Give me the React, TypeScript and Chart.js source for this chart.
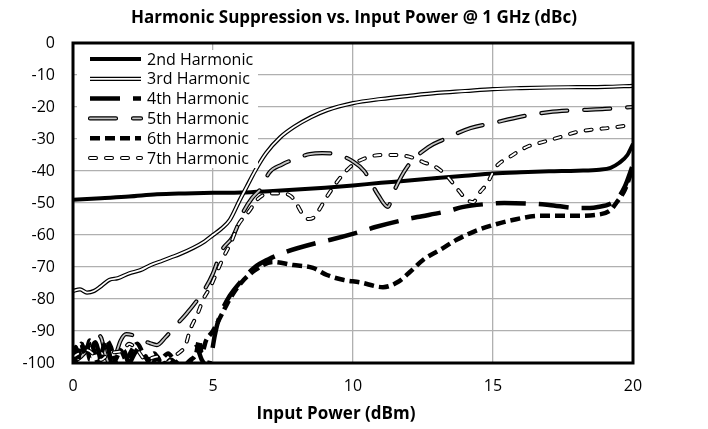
import React, { useEffect, useRef } from 'react';
import { Chart, registerables } from 'chart.js';

Chart.register(...registerables);

const FONT = "'Open Sans', sans-serif";

const TITLE = 'Harmonic Suppression vs. Input Power @ 1 GHz (dBc)';
const X_TITLE = 'Input Power (dBm)';
const X_MIN = 0;
const X_MAX = 20;
const X_STEP = 5;
const Y_MIN = -100;
const Y_MAX = 0;
const Y_STEP = 10;

const seriesNames = ['2nd Harmonic', '3rd Harmonic', '4th Harmonic', '5th Harmonic', '6th Harmonic', '7th Harmonic'];

const h2X = [0, 1, 2, 3, 4, 5, 6, 7, 8, 9, 10, 11, 12, 13, 14, 15, 16, 17, 18, 18.8, 19.2, 19.5, 19.8, 20];
const h2Y = [-49, -48.5, -48, -47.3, -47, -46.8, -46.7, -46.3, -45.8, -45.2, -44.5, -43.7, -43, -42.2, -41.5, -40.8, -40.4, -40.1, -39.9, -39.6, -39, -37.5, -35, -31.5];

const h3X = [0, 0.25, 0.5, 0.75, 1, 1.3, 1.6, 2, 2.4, 2.75, 3.2, 3.5, 3.8, 4.3, 4.7, 5, 5.3, 5.6, 5.96, 6.2, 6.5, 6.9, 7.4, 7.9, 8.5, 9.07, 10, 11, 12, 13, 14, 15, 16, 17, 18, 19, 20];
const h3Y = [-77.5, -77, -78, -77.5, -76, -74, -73.5, -72, -71, -69.5, -68, -67, -66, -64, -62, -60, -58, -55.3, -49, -45, -40, -34.4, -29.5, -26.2, -23.2, -21, -18.8, -17.5, -16.5, -15.6, -15, -14.4, -14.1, -13.9, -13.8, -13.7, -13.4];

const h4X = [0, 0.1, 0.2, 0.3, 0.4, 0.5, 0.6, 0.7, 0.8, 0.9, 1, 1.1, 1.2, 1.3, 1.4, 1.6, 1.8, 2, 2.2, 2.4, 2.6, 2.8, 3, 3.2, 3.5, 3.8, 4.1, 4.4, 4.6, 4.8, 4.95, 5.05, 5.15, 5.3, 5.6, 6, 6.5, 7, 7.6, 8.7, 9.2, 10.25, 10.8, 11.8, 12.3, 13.4, 13.9, 14.8, 15.4, 16.6, 17, 18.1, 18.7, 19.4, 19.7, 20];
const h4Y = [-101, -95, -98, -94, -97, -95, -99, -95, -93.5, -96, -99, -95, -94, -97, -101, -98, -96, -100, -97, -95, -98, -101, -98, -101, -99, -101, -101, -95, -99, -101, -97, -92, -88, -84, -79, -74.5, -70, -67.5, -65.3, -62.5, -61.5, -59, -57.5, -55.3, -54.4, -52.5, -51.3, -50.3, -50, -50.3, -50.6, -51.6, -51.3, -49, -45, -38];

const h5X = [0, 0.4, 0.8, 1, 1.15, 1.3, 1.5, 1.7, 1.9, 2.2, 2.5, 2.75, 3, 3.3, 3.7, 4.07, 4.7, 5, 5.3, 5.7, 6.1, 6.4, 6.75, 7, 7.46, 8, 8.46, 8.9, 9.5, 10, 10.4, 10.9, 11.25, 11.43, 11.93, 12.7, 13.2, 14.2, 15, 16, 17, 18, 19, 20];
const h5Y = [-100, -97, -91, -92, -97, -100, -98, -93, -91, -91.5, -93, -93.8, -94.4, -92, -88, -84.4, -77, -72, -65, -60.6, -52.5, -48.4, -45, -40.6, -38, -36, -34.7, -34.4, -35, -37, -40, -47.5, -51.2, -47, -38.8, -32.5, -30.3, -26.6, -25, -23, -21.6, -21, -20.6, -20];

const h6X = [0, 0.15, 0.3, 0.45, 0.6, 0.75, 0.9, 1.05, 1.2, 1.35, 1.5, 1.7, 1.9, 2.1, 2.3, 2.5, 2.7, 2.9, 3.1, 3.4, 3.6, 3.9, 4.2, 4.4, 4.5, 4.6, 4.75, 5, 5.3, 5.6, 6, 6.5, 7.14, 7.86, 8.57, 9.07, 9.64, 10.25, 11.07, 11.6, 12.04, 12.5, 13.1, 13.7, 14.3, 15, 15.7, 16.7, 17.9, 18.7, 19.2, 19.4, 19.7, 20];
const h6Y = [-97, -100, -94, -97, -93, -96, -100, -96, -93, -95, -99, -96, -99, -96, -94, -97, -99, -97, -99, -97, -99, -101, -99, -97, -93, -97, -93, -90, -85, -80, -75, -71, -68.4, -69.4, -70.3, -72.5, -74, -74.8, -76.3, -74.7, -71.5, -67.8, -64.7, -61.5, -59, -56.9, -55.3, -54, -54, -53.7, -52.2, -50, -46, -39];

const h7X = [0, 0.5, 1, 1.3, 1.8, 2, 2.3, 2.6, 3, 3.3, 3.6, 3.9, 4, 4.18, 4.46, 4.64, 4.9, 5.14, 5.36, 5.68, 5.86, 6.32, 6.57, 7, 7.5, 7.8, 8, 8.2, 8.4, 8.6, 8.8, 9, 9.3, 9.6, 10, 10.5, 11, 11.5, 12, 12.5, 13, 13.4, 13.7, 14.07, 14.3, 14.5, 14.8, 15.1, 15.6, 16.2, 16.8, 17.4, 18, 18.6, 19.2, 20];
const h7Y = [-98, -96, -99, -97, -96, -94, -96, -99, -98, -100, -98, -96, -95, -89.7, -84.4, -80.3, -76.3, -71.6, -67.2, -61.6, -57.5, -52.2, -49, -47, -47, -48, -50.5, -53.5, -55, -54.5, -52, -49, -45, -41.5, -38, -35.8, -35, -35, -35.5, -37.2, -39, -42, -45.3, -49, -49.7, -47, -43.8, -38.8, -35.6, -32.5, -30.9, -29.4, -27.8, -27, -26.5, -25.5];

const seriesX = [h2X, h3X, h4X, h5X, h6X, h7X];
const seriesY = [h2Y, h3Y, h4Y, h5Y, h6Y, h7Y];

type Stroke = { color: string; width: number; dash: number[]; cap: CanvasLineCap };
// each series may have one or two strokes (outline + inner core)
const seriesStrokes: Stroke[][] = [
  [{ color: '#000', width: 4, dash: [], cap: 'butt' }],
  [{ color: '#000', width: 4.2, dash: [], cap: 'butt' }, { color: '#fff', width: 1.8, dash: [], cap: 'butt' }],
  [{ color: '#000', width: 4.5, dash: [30, 13], cap: 'butt' }],
  [{ color: '#000', width: 4.2, dash: [26, 17], cap: 'round' }, { color: '#c4c4c4', width: 1.8, dash: [26, 17], cap: 'round' }],
  [{ color: '#000', width: 4.5, dash: [10, 5], cap: 'butt' }],
  [{ color: '#000', width: 4, dash: [6, 10], cap: 'round' }, { color: '#fff', width: 1.8, dash: [6, 10], cap: 'round' }],
];

const overlayPlugin = {
  id: 'overlay',
  afterDatasetsDraw(chart: any) {
    const { ctx, chartArea } = chart;
    const { left, top, right, bottom } = chartArea;
    ctx.save();
    // legend box
    ctx.fillStyle = '#fff';
    ctx.fillRect(left + 4, top + 7, 258 - left - 4, 168 - top - 7);
    const rowY0 = 59;
    const rowH = 19.8;
    for (let i = 0; i < seriesNames.length; i++) {
      const y = rowY0 + i * rowH;
      for (const s of seriesStrokes[i]) {
        ctx.beginPath();
        ctx.strokeStyle = s.color;
        ctx.lineWidth = s.width;
        ctx.lineCap = s.cap;
        ctx.setLineDash(s.dash);
        ctx.moveTo(90, y);
        ctx.lineTo(141, y);
        ctx.stroke();
      }
      ctx.setLineDash([]);
      ctx.fillStyle = '#000';
      ctx.font = `16px ${FONT}`;
      ctx.textAlign = 'left';
      ctx.textBaseline = 'middle';
      ctx.fillText(seriesNames[i], 147, y + 1);
    }
    // frame
    ctx.setLineDash([]);
    ctx.lineCap = 'butt';
    ctx.strokeStyle = '#000';
    ctx.lineWidth = 3;
    ctx.strokeRect(left, top, right - left, bottom - top);
    // titles
    ctx.fillStyle = '#000';
    ctx.textAlign = 'center';
    ctx.textBaseline = 'middle';
    ctx.font = `bold 17px ${FONT}`;
    ctx.fillText(TITLE, 354, 18);
    ctx.fillText(X_TITLE, 336, 414);
    ctx.restore();
  },
};

export default function App() {
  const ref = useRef<HTMLCanvasElement>(null);
  useEffect(() => {
    const canvas = ref.current;
    if (!canvas) return;
    const datasets: any[] = [];
    let drawIndex = 0;
    const total = seriesStrokes.reduce((a, s) => a + s.length, 0);
    seriesStrokes.forEach((strokes, si) => {
      strokes.forEach((s) => {
        datasets.push({
          label: seriesNames[si],
          data: seriesX[si].map((x, i) => ({ x, y: seriesY[si][i] })),
          borderColor: s.color,
          borderWidth: s.width,
          borderDash: s.dash,
          borderCapStyle: s.cap,
          borderJoinStyle: 'round',
          pointRadius: 0,
          fill: false,
          cubicInterpolationMode: 'monotone',
          clip: 0,
          order: total - drawIndex,
        });
        drawIndex++;
      });
    });
    const chart = new Chart(canvas, {
      type: 'line',
      data: { datasets },
      options: {
        animation: false,
        responsive: false,
        devicePixelRatio: 1,
        layout: { padding: { top: 43, right: 75, left: 0, bottom: 0 } },
        plugins: { legend: { display: false }, title: { display: false }, tooltip: { enabled: false } },
        scales: {
          x: {
            type: 'linear',
            min: X_MIN,
            max: X_MAX,
            ticks: { stepSize: X_STEP, color: '#000', font: { family: FONT, size: 16 }, padding: 14, maxRotation: 0 },
            grid: { color: '#b0b0b0', lineWidth: 1.3, drawTicks: false },
            border: { display: false },
            afterFit: (scale: any) => { scale.height = 66; },
          },
          y: {
            type: 'linear',
            min: Y_MIN,
            max: Y_MAX,
            ticks: { stepSize: Y_STEP, color: '#000', font: { family: FONT, size: 16 }, padding: 18 },
            grid: { color: '#b0b0b0', lineWidth: 1.3, drawTicks: false },
            border: { display: false },
            afterFit: (scale: any) => { scale.width = 73; },
          },
        },
      },
      plugins: [overlayPlugin],
    });
    return () => chart.destroy();
  }, []);
  return (
    <div style={{ position: 'absolute', left: 0, top: 0, width: 708, height: 429, background: '#fff' }}>
      <canvas ref={ref} width={708} height={429} style={{ width: 708, height: 429 }} />
    </div>
  );
}
